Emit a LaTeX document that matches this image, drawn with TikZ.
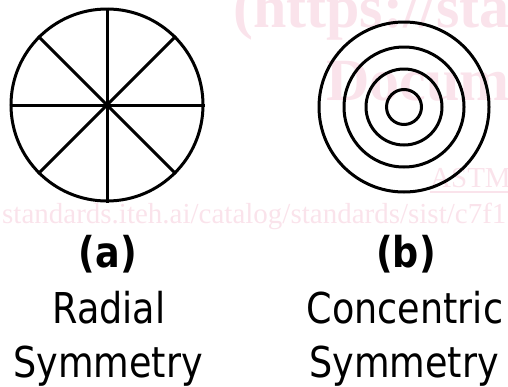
\documentclass[tikz,border=0pt]{standalone}
\usepackage{fontspec}
\setmainfont{DejaVu Sans}[FakeStretch=0.86]
\newfontfamily\wmfont{Liberation Serif}
\definecolor{wmpink}{RGB}{250,227,235}
\begin{document}
\begin{tikzpicture}[x=1pt,y=-1pt,
  shapeline/.style={draw=black,line width=3pt},
  ring/.style={circle,shapeline,inner sep=0pt},
  label/.style={anchor=base,inner sep=0pt,font=\fontsize{42.5}{54}\selectfont},
  tag/.style={label,font=\fontsize{42.5}{54}\selectfont\bfseries},
  wmbig/.style={anchor=base west,inner sep=0pt,text=wmpink,font=\wmfont\bfseries\fontsize{60}{60}\selectfont},
  wmsmall/.style={anchor=base west,inner sep=0pt,text=wmpink,font=\wmfont\fontsize{29}{29}\selectfont}]
\useasboundingbox (0,0) rectangle (508,386);
% watermark
\begin{scope}
\clip (0,0) rectangle (508,386);
\node[wmbig] (wm1) at (233,27) {(https://sta};
\node[wmbig] (wm2) at (326,100) {Docum};
\node[wmsmall] (wm3) at (430,187) {ASTM};
\draw[wmpink,line width=1.5pt] ([yshift=-5pt]wm3.base west) -- ([yshift=-5pt]wm3.base east);
\node[wmsmall] (wm4) at (2,223) {standards.iteh.ai/catalog/standards/sist/c7f1};
\end{scope}
% radial symmetry
\node[ring,minimum size=192pt] (rad) at (107,105) {};
\foreach \a in {0,45,90,135}{
  \draw[shapeline] (rad.\a) -- (rad.\a+180);
}
% concentric symmetry
\node[ring,minimum size=170pt] (c1) at (404,107) {};
\node[ring,minimum size=120pt] (c2) at (404,107) {};
\node[ring,minimum size=76pt] (c3) at (404,107) {};
\node[ring,minimum size=35pt] (c4) at (404,107) {};
% labels
\node[tag] (la) at (108,267) {(a)};
\node[label] (lr) at (109,323) {Radial};
\node[label] (ls1) at (108,377) {Symmetry};
\node[tag] (lb) at (406,267) {(b)};
\node[label] (lc) at (405,323) {Concentric};
\node[label] (ls2) at (404,377) {Symmetry};
\end{tikzpicture}
\end{document}
